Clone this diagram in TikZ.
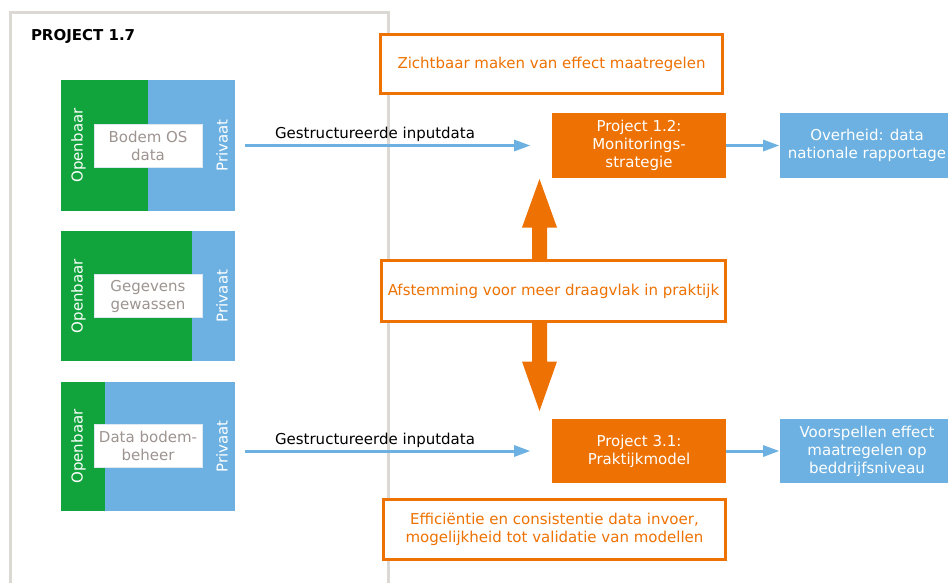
\documentclass[tikz,border=0pt]{standalone}
\usepackage{fontspec}
\setmainfont{DejaVu Sans}
\usetikzlibrary{arrows.meta,calc}
\definecolor{org}{HTML}{EE7203}
\definecolor{grn}{HTML}{12A43C}
\definecolor{blu}{HTML}{6CB1E1}
\definecolor{txtgray}{HTML}{9D9490}
\definecolor{panelgray}{HTML}{DCD9D5}
\definecolor{innerline}{HTML}{DCE8F2}
\begin{document}
\begin{tikzpicture}[x=1pt,y=-1pt,
  every node/.style={font=\fontsize{15}{18}\selectfont, inner sep=0pt, outer sep=0pt, align=center},
  srcbox/.style={fill=blu, minimum width=174pt, minimum height=130pt, anchor=north west},
  innerbox/.style={fill=white, draw=innerline, line width=0.8pt, text=txtgray, minimum width=108pt, minimum height=43pt},
  sidelabel/.style={rotate=90, text=white},
  outlinebox/.style={draw=org, line width=3pt, fill=white, text=org},
  projbox/.style={fill=org, text=white, minimum width=174pt, minimum height=65pt},
  resbox/.style={fill=blu, text=white, minimum width=174pt, minimum height=65pt},
  barrow/.style={draw=blu, line width=3pt, -{Triangle[length=16pt,width=12pt,line width=0pt]}},
  bigarrow/.style={fill=org}
]
\useasboundingbox (0,0) rectangle (948,582);
\fill[white] (0,0) rectangle (948,582);

% panel
\draw[panelgray, line width=3pt] (10.5,600) -- (10.5,12.5) -- (388.5,12.5) -- (388.5,600);
\node[font=\bfseries\fontsize{15}{18}\selectfont, anchor=west] (title) at (31,36) {PROJECT 1.7};

% source box 1
\node[srcbox, minimum height=131pt] (src1) at (61,80) {};
\fill[grn] (src1.north west) rectangle (148,211);
\node[innerbox] (in1) at (148,145.5) {Bodem OS\\data};
\node[sidelabel] (ob1) at (78.5,145.5) {Openbaar};
\node[sidelabel] (pv1) at (222,145.5) {Privaat};

% source box 2
\node[srcbox] (src2) at (61,231) {};
\fill[grn] (src2.north west) rectangle (192,361);
\node[innerbox] (in2) at (148,296) {Gegevens\\gewassen};
\node[sidelabel] (ob2) at (78.5,296) {Openbaar};
\node[sidelabel] (pv2) at (222,296) {Privaat};

% source box 3
\node[srcbox, minimum height=129pt] (src3) at (61,382) {};
\fill[grn] (src3.north west) rectangle (105,511);
\node[innerbox] (in3) at (148,446) {Data bodem-\\beheer};
\node[sidelabel] (ob3) at (78.5,446.5) {Openbaar};
\node[sidelabel] (pv3) at (222,446.5) {Privaat};

% right side boxes
\node[outlinebox, minimum width=342pt, minimum height=59pt] (zicht) at (551.5,64) {Zichtbaar maken van effect maatregelen};
\node[projbox] (p12) at (639,145.5) {Project 1.2:\\Monitorings-\\strategie};
\node[resbox] (ov) at (867,145.5) {Overheid: data\\nationale rapportage};
\node[outlinebox, minimum width=344pt, minimum height=61pt] (afst) at (553.5,291) {Afstemming voor meer draagvlak in praktijk};
\node[projbox, minimum height=64pt] (p31) at (639,451) {Project 3.1:\\Praktijkmodel};
\node[resbox, minimum height=64pt] (vs) at (867,451) {Voorspellen effect\\maatregelen op\\beddrijfsniveau};
\node[outlinebox, minimum width=342pt, minimum height=60pt] (eff) at (554.5,529.5) {Efficiëntie en consistentie data invoer,\\mogelijkheid tot validatie van modellen};

% blue arrows
\draw[barrow, shorten <=10pt, shorten >=22pt] (src1.east) -- (p12.west);
\node (lbl1) at (375,134) {Gestructureerde inputdata};
\draw[barrow, shorten <=10pt, shorten >=22pt] (src3.east |- p31.west) -- (p31.west);
\node (lbl2) at (375,440) {Gestructureerde inputdata};
\draw[barrow, shorten >=1pt] (p12.east) -- (ov.west);
\draw[barrow, shorten >=1pt] (p31.east) -- (vs.west);

% big orange double arrow
\coordinate (bx) at (539.5,0);
\fill[bigarrow] ($(bx |- afst.north)+(-7.5,0)$) -- ++(0,-33) -- ++(-10,0)
  -- ($(bx |- p12.south)+(0,1)$) -- ($(bx |- afst.north)+(17.5,-33)$) -- ++(-10,0)
  -- ($(bx |- afst.north)+(7.5,0)$) -- cycle;
\fill[bigarrow] ($(bx |- afst.south)+(-7.5,0)$) -- ++(0,40) -- ++(-10,0)
  -- ($(bx |- p31.north)+(0,-8)$) -- ($(bx |- afst.south)+(17.5,40)$) -- ++(-10,0)
  -- ($(bx |- afst.south)+(7.5,0)$) -- cycle;
\end{tikzpicture}
\end{document}
